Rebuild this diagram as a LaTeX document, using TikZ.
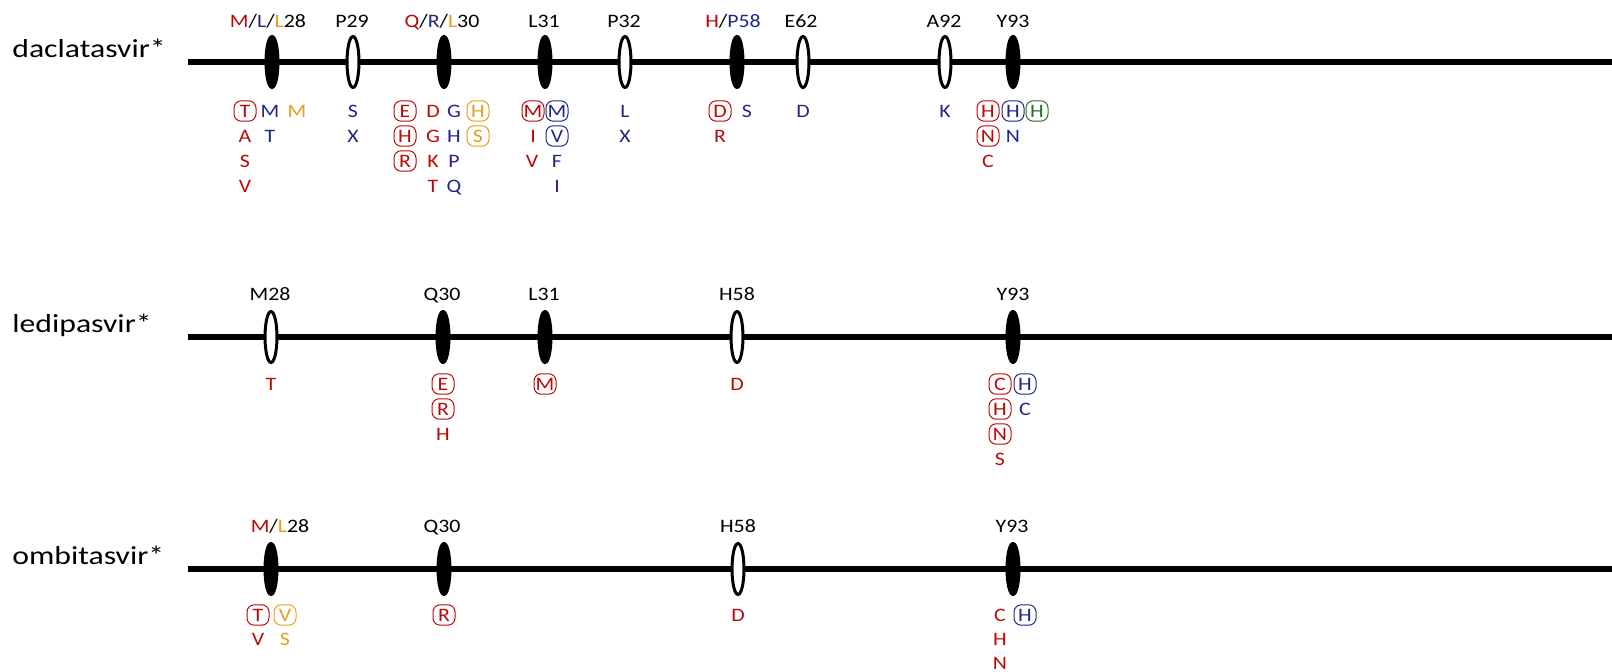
\documentclass[tikz,border=0pt]{standalone}
\usepackage{fontspec}
\setmainfont{Carlito}
\newfontfamily\labfont{Carlito}[FakeStretch=1.15]
\newfontfamily\drugfont{Carlito}[FakeStretch=1.22]
\usetikzlibrary{shapes.geometric}
\definecolor{rd}{RGB}{185,10,10}
\definecolor{bl}{RGB}{32,40,130}
\definecolor{og}{RGB}{228,160,30}
\definecolor{gn}{RGB}{40,110,40}
\begin{document}
\begin{tikzpicture}[x=0.5pt,y=-0.5pt,
 axis/.style={line width=3pt},
 site/.style={ellipse, draw=black, line width=1.5pt, minimum width=6pt, minimum height=25.5pt, inner sep=0pt, fill=white},
 hot/.style={site, fill=black},
 lt/.style={font=\labfont\fontsize{9.5}{11}\selectfont, inner sep=0pt, text height=6.15pt, text depth=0pt},
 ring/.style={lt, draw, line width=0.5pt, minimum width=11pt, minimum height=10.2pt, rounded corners=3.6pt},
 drug/.style={font=\drugfont\fontsize{13}{15}\selectfont, inner sep=0pt, anchor=base west}]
\useasboundingbox (0,0) rectangle (1612,672);

% ---------------- daclatasvir ----------------
\node[drug] (n1) at (12,58) {daclatasvir*};
\coordinate (s1) at (188,62);
\coordinate (e1) at (1612,62);
\draw[axis] (s1) -- (e1);
\node[hot]  (a28) at (272,62) {};
\node[site] (a29) at (353,62) {};
\node[hot]  (a30) at (444,62) {};
\node[hot]  (a31) at (545,62) {};
\node[site] (a32) at (625,62) {};
\node[hot]  (a58) at (737,62) {};
\node[site] (a62) at (803,62) {};
\node[site] (a92) at (945,62) {};
\node[hot]  (a93) at (1013,62) {};

\node[lt] (ha28) at (268,21) {{\color{rd}M}/{\color{bl}L}/{\color{og}L}28};
\node[lt] (ha29) at (352,21) {P29};
\node[lt] (ha30) at (442,21) {{\color{rd}Q}/{\color{bl}R}/{\color{og}L}30};
\node[lt] (ha31) at (544,21) {L31};
\node[lt] (ha32) at (624,21) {P32};
\node[lt] (ha58) at (733,21) {{\color{rd}H}/{\color{bl}P58}};
\node[lt] (ha62) at (801,21) {E62};
\node[lt] (ha92) at (944,21) {A92};
\node[lt] (ha93) at (1013,21) {Y93};

% 28
\node[ring,rd] (a28r1) at (245,111) {T};
\node[lt,rd] (a28r2) at (245,136) {A};
\node[lt,rd] (a28r3) at (245,161) {S};
\node[lt,rd] (a28r4) at (245,186) {V};
\node[lt,bl] (a28b1) at (270,111) {M};
\node[lt,bl] (a28b2) at (270,136) {T};
\node[lt,og] (a28o1) at (297,111) {M};
% 29
\node[lt,bl] (a29b1) at (353,111) {S};
\node[lt,bl] (a29b2) at (353,136) {X};
% 30
\node[ring,rd] (a30c1) at (405,111) {E};
\node[ring,rd] (a30c2) at (405,136) {H};
\node[ring,rd] (a30c3) at (405,161) {R};
\node[lt,rd] (a30r1) at (433,111) {D};
\node[lt,rd] (a30r2) at (433,136) {G};
\node[lt,rd] (a30r3) at (433,161) {K};
\node[lt,rd] (a30r4) at (433,186) {T};
\node[lt,bl] (a30b1) at (454,111) {G};
\node[lt,bl] (a30b2) at (454,136) {H};
\node[lt,bl] (a30b3) at (454,161) {P};
\node[lt,bl] (a30b4) at (454,186) {Q};
\node[ring,og] (a30o1) at (478,111) {H};
\node[ring,og] (a30o2) at (478,136) {S};
% 31
\node[ring,rd] (a31r1) at (533,111) {M};
\node[lt,rd] (a31r2) at (533,136) {I};
\node[lt,rd] (a31r3) at (532,161) {V};
\node[ring,bl] (a31b1) at (557,111) {M};
\node[ring,bl] (a31b2) at (557,136) {V};
\node[lt,bl] (a31b3) at (557,161) {F};
\node[lt,bl] (a31b4) at (557,186) {I};
% 32
\node[lt,bl] (a32b1) at (625,111) {L};
\node[lt,bl] (a32b2) at (625,136) {X};
% 58
\node[ring,rd] (a58r1) at (720,111) {D};
\node[lt,rd] (a58r2) at (720,136) {R};
\node[lt,bl] (a58b1) at (747,111) {S};
% 62
\node[lt,bl] (a62b1) at (803,111) {D};
% 92
\node[lt,bl] (a92b1) at (945,111) {K};
% 93
\node[ring,rd] (a93r1) at (988,111) {H};
\node[ring,rd] (a93r2) at (988,136) {N};
\node[lt,rd] (a93r3) at (988,161) {C};
\node[ring,bl] (a93b1) at (1013,111) {H};
\node[lt,bl] (a93b2) at (1013,136) {N};
\node[ring,gn] (a93g1) at (1037,111) {H};

% ---------------- ledipasvir ----------------
\node[drug] (n2) at (12,333) {ledipasvir*};
\coordinate (s2) at (188,337);
\coordinate (e2) at (1612,337);
\draw[axis] (s2) -- (e2);
\node[site] (b28) at (271,337) {};
\node[hot]  (b30) at (443,337) {};
\node[hot]  (b31) at (545,337) {};
\node[site] (b58) at (737,337) {};
\node[hot]  (b93) at (1013,337) {};

\node[lt] (hb28) at (270,294) {M28};
\node[lt] (hb30) at (442,294) {Q30};
\node[lt] (hb31) at (544,294) {L31};
\node[lt] (hb58) at (737,294) {H58};
\node[lt] (hb93) at (1013,294) {Y93};

\node[lt,rd] (b28r1) at (271,384) {T};
\node[ring,rd] (b30r1) at (443,384) {E};
\node[ring,rd] (b30r2) at (443,409) {R};
\node[lt,rd] (b30r3) at (443,434) {H};
\node[ring,rd] (b31r1) at (545,384) {M};
\node[lt,rd] (b58r1) at (737,384) {D};
\node[ring,rd] (b93r1) at (1000,384) {C};
\node[ring,rd] (b93r2) at (1000,409) {H};
\node[ring,rd] (b93r3) at (1000,434) {N};
\node[lt,rd] (b93r4) at (1000,459) {S};
\node[ring,bl] (b93b1) at (1025,384) {H};
\node[lt,bl] (b93b2) at (1025,409) {C};

% ---------------- ombitasvir ----------------
\node[drug] (n3) at (12,565) {ombitasvir*};
\coordinate (s3) at (188,569);
\coordinate (e3) at (1612,569);
\draw[axis] (s3) -- (e3);
\node[hot]  (c28) at (271,569) {};
\node[hot]  (c30) at (444,569) {};
\node[site] (c58) at (738,569) {};
\node[hot]  (c93) at (1013,569) {};

\node[lt] (hc28) at (280,526) {{\color{rd}M}/{\color{og}L}28};
\node[lt] (hc30) at (442,526) {Q30};
\node[lt] (hc58) at (738,526) {H58};
\node[lt] (hc93) at (1012,526) {Y93};

\node[ring,rd] (c28r1) at (258,615) {T};
\node[lt,rd] (c28r2) at (258,639) {V};
\node[ring,og] (c28o1) at (285,615) {V};
\node[lt,og] (c28o2) at (285,639) {S};
\node[ring,rd] (c30r1) at (444,615) {R};
\node[lt,rd] (c58r1) at (738,615) {D};
\node[lt,rd] (c93r1) at (1000,615) {C};
\node[lt,rd] (c93r2) at (1000,639) {H};
\node[lt,rd] (c93r3) at (1000,663) {N};
\node[ring,bl] (c93b1) at (1025,615) {H};
\end{tikzpicture}
\end{document}
